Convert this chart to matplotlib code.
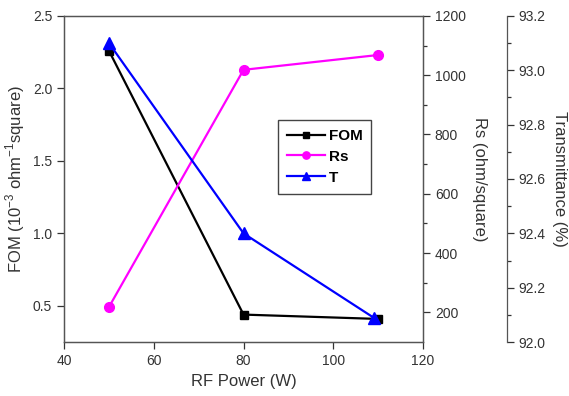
import matplotlib.pyplot as plt

plt.rcParams['font.family'] = ['Liberation Sans', 'DejaVu Sans']
plt.rcParams['mathtext.fontset'] = 'custom'
plt.rcParams['mathtext.rm'] = 'Liberation Sans'

# Datos
power = [50, 80, 110]
power_t = [50, 80, 109]
fom = [2.26, 0.44, 0.41]
rs = [218, 1018, 1068]
trans = [93.10, 92.40, 92.09]

fig = plt.figure(figsize=(5.69, 3.96), dpi=100)
ax = fig.add_axes([0.1125, 0.136, 0.631, 0.824])
ax2 = ax.twinx()
ax3 = ax.twinx()
ax3.spines['right'].set_position(('axes', 1.234))

l1, = ax.plot(power, fom, color='black', lw=1.6, marker='s', ms=6, label='FOM')
l2, = ax2.plot(power, rs, color='#ff00ff', lw=1.6, marker='o', ms=7, label='Rs')
l3, = ax3.plot(power_t, trans, color='#0000ff', lw=1.6, marker='^', ms=8, label='T')

ax.set_xlim(40, 120)
ax.set_ylim(0.25, 2.5)
ax2.set_ylim(100, 1200)
ax3.set_ylim(92.0, 93.2)

ax.set_xticks([40, 60, 80, 100, 120])
ax.set_yticks([0.5, 1.0, 1.5, 2.0, 2.5])
ax2.set_yticks([200, 400, 600, 800, 1000, 1200])
ax2.set_yticks([300, 500, 700, 900, 1100], minor=True)
ax3.set_yticks([92.0, 92.2, 92.4, 92.6, 92.8, 93.0, 93.2])
ax3.set_yticks([92.1, 92.3, 92.5, 92.7, 92.9, 93.1], minor=True)
ax3.set_yticklabels(['92.0', '92.2', '92.4', '92.6', '92.8', '93.0', '93.2'])

for a in (ax, ax2, ax3):
    a.tick_params(labelsize=10, colors='#333333', length=5, width=0.9)
    a.tick_params(which='minor', length=3, width=0.9, colors='#333333')
    for s in a.spines.values():
        s.set_color('#555555')
        s.set_linewidth(0.9)
ax3.spines['left'].set_visible(False)
ax3.spines['top'].set_visible(False)
ax3.spines['bottom'].set_visible(False)

ax.set_xlabel('RF Power (W)', fontsize=12, color='#333333')
ax.set_ylabel('FOM (10$^{-3}$ ohm$^{-1}$square)', fontsize=12, color='#333333')
ax2.set_ylabel('Rs (ohm/square)', fontsize=12, color='#333333', rotation=270, labelpad=15)
ax3.set_ylabel('Transmittance (%)', fontsize=12, color='#333333', rotation=270, labelpad=15)

leg = ax.legend(handles=[l1, l2, l3], loc='upper left', bbox_to_anchor=(0.575, 0.705),
                fancybox=False, edgecolor='#444444', framealpha=1,
                prop={'weight': 'bold', 'size': 11}, handlelength=2.5, markerscale=0.75,
                handletextpad=0.2, labelspacing=0.45, borderpad=0.6)
leg.get_frame().set_linewidth(1.0)

fig.savefig('out.png', dpi=100)
